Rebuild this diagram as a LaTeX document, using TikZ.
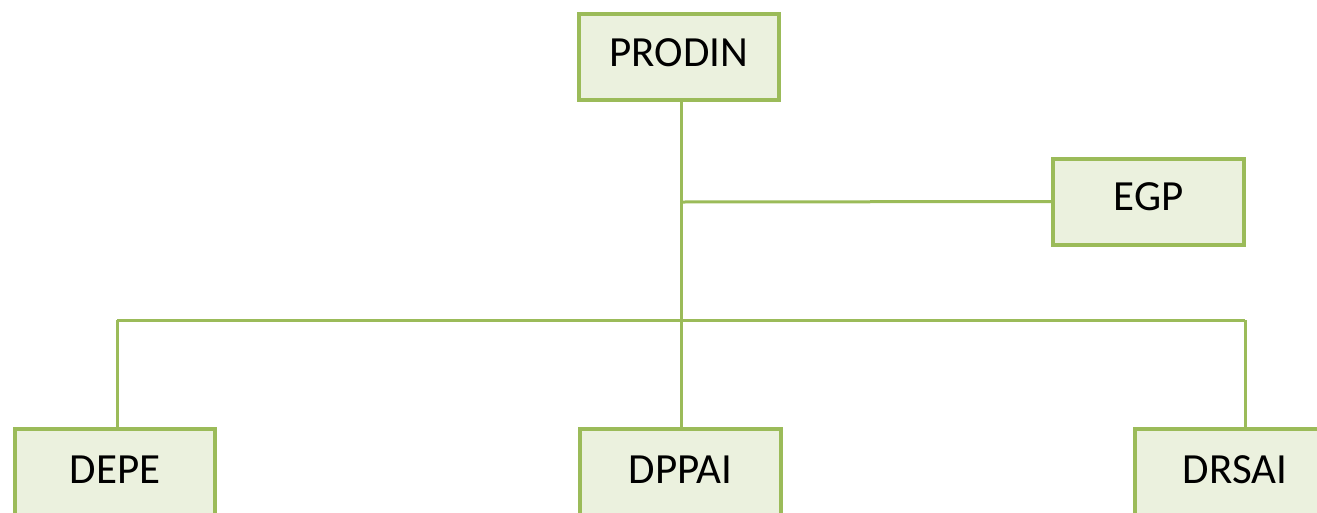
\documentclass[tikz,border=0pt]{standalone}
\usepackage{fontspec}
\setmainfont{Carlito}
\definecolor{boxfill}{HTML}{EBF1DE}
\definecolor{boxline}{HTML}{9BBB59}
\begin{document}
\begin{tikzpicture}[x=1pt,y=1pt,
  orgbox/.style={draw=boxline,fill=boxfill,line width=4pt,rectangle,
    minimum width=200pt,minimum height=86pt,inner sep=0pt,
    font=\fontsize{43}{50}\selectfont,text height=28pt,text depth=10pt},
  lowbox/.style={orgbox,anchor=north,minimum height=100pt,text depth=20pt},
  link/.style={draw=boxline,line width=3pt}]
\useasboundingbox (0,0) rectangle (1317,-512);
\node[orgbox] (PRODIN) at (679,-57) {PRODIN};
\node[orgbox,minimum width=191pt] (EGP) at (1148.5,-201.5) {EGP};
\node[lowbox] (DEPE) at (115,-427) {DEPE};
\node[lowbox,minimum width=201pt] (DPPAI) at (680.5,-427) {DPPAI};
\node[lowbox] (DRSAI) at (1235,-427) {DRSAI};
\coordinate (j1) at (681,-202);
\coordinate (hl) at (117,-320);
\coordinate (hr) at (1245,-320);
\draw[link] (PRODIN.south -| j1) -- (DPPAI.north -| j1);
\draw[link] (j1) -- (EGP.west);
\draw[link] (hl) -- (hr);
\draw[link] (hl) -- (hl |- DEPE.north);
\draw[link] (hr) -- (hr |- DRSAI.north);
\end{tikzpicture}
\end{document}
